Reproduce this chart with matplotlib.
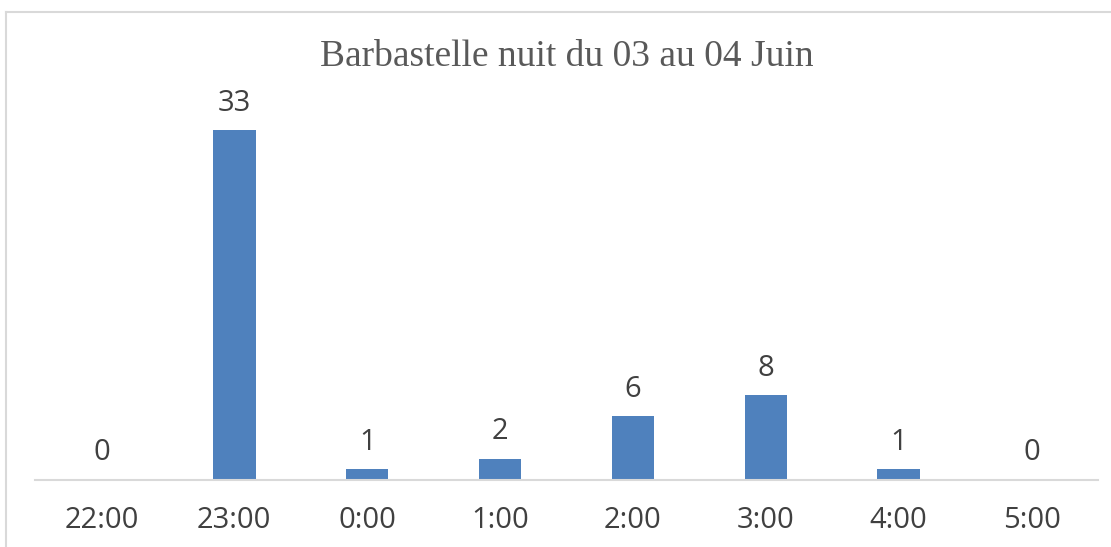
import numpy as np
from matplotlib import pyplot as plt
from matplotlib.lines import Line2D

hours = ["22:00", "23:00", "0:00", "1:00", "2:00", "3:00", "4:00", "5:00"]
counts = [0, 33, 1, 2, 6, 8, 1, 0]

fig = plt.figure(figsize=(11.11, 5.47), dpi=100)
ax = fig.add_axes([35/1111, 67/547, 1063/1111, 371/547])

x = np.arange(len(hours))
bars = ax.bar(x, counts, width=0.32, color="#4F81BD")
ax.bar_label(bars, labels=[str(c) for c in counts], padding=9,
             fontsize=21, color="#404040", family="Open Sans")

ax.set_xlim(-0.5, len(hours) - 0.5)
ax.set_ylim(0, 35)
ax.set_xticks(x)
ax.set_xticklabels(hours, fontsize=21, color="#404040", family="Open Sans")
ax.tick_params(axis="x", length=0, pad=19)
ax.set_yticks([])
for s in ["top", "right", "left"]:
    ax.spines[s].set_visible(False)
ax.spines["bottom"].set_color("#D9D9D9")
ax.spines["bottom"].set_linewidth(1.5)

fig.text(567/1111, 1 - 57/547, "Barbastelle nuit du 03 au 04 Juin", ha="center", va="center",
         fontsize=27, color="#595959", family="Liberation Serif")

# chart border (only left and top visible in the crop)
fig.add_artist(Line2D([6/1111, 6/1111], [0, 1 - 12/547], color="#D9D9D9", lw=1.5))
fig.add_artist(Line2D([6/1111, 1], [1 - 12/547, 1 - 12/547], color="#D9D9D9", lw=1.5))

fig.savefig("out.png", dpi=100)
